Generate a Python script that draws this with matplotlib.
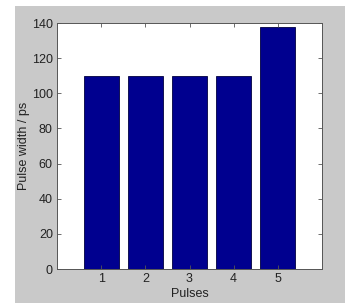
import matplotlib
matplotlib.use("Agg")
import matplotlib.pyplot as plt
from matplotlib.patches import Rectangle

# data
pulses = [1, 2, 3, 4, 5]
widths = [110, 110, 110, 110, 138]
yticks = [0, 20, 40, 60, 80, 100, 120, 140]

plt.rcParams['font.family'] = ['Liberation Sans', 'DejaVu Sans']

fig = plt.figure(figsize=(3.5, 3.05), dpi=100)
fig.patch.set_facecolor('white')
# grey matlab-style figure background, kept behind the axes
fig.patches.append(Rectangle((15/350, 2/305), 330/350, 297/305, transform=fig.transFigure,
                             facecolor='#c9c9c9', edgecolor='none', zorder=-10))

ax = fig.add_axes([57/350, 1 - 269/305, 265/350, 246/305])
ax.set_facecolor('white')
ax.bar(pulses, widths, width=0.8, color='#00008f', edgecolor='#000040', linewidth=0.6)

ax.set_xlim(0, 6)
ax.set_ylim(0, 140)
ax.set_xticks(pulses)
ax.set_yticks(yticks)
ax.tick_params(direction='in', top=True, right=True, labelsize=9, length=3,
               width=0.6, colors='#555555', labelcolor='#222222', pad=3)
for s in ax.spines.values():
    s.set_linewidth(0.7)
    s.set_color('#555555')

ax.set_xlabel('Pulses', fontsize=9, color='#222222', labelpad=2)
ax.set_ylabel('Pulse width / ps', fontsize=9, color='#222222', labelpad=1)

fig.savefig('out.png', dpi=100)
